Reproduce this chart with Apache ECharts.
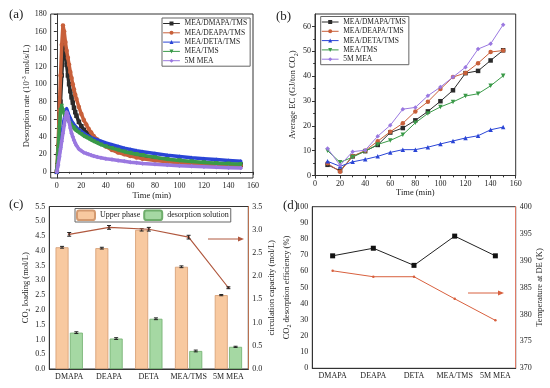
<!DOCTYPE html>
<html><head><meta charset="utf-8">
<script src="https://cdn.jsdelivr.net/npm/echarts@6/dist/echarts.min.js"></script>
<style>html,body{margin:0;padding:0;background:#fff}#c{width:550px;height:388px}</style>
</head><body><div id="c"></div>
<script>
// ---------- Panel (a): desorption rate ----------
const seriesNames = ['MEA/DMAPA/TMS','MEA/DEAPA/TMS','MEA/DETA/TMS','MEA/TMS','5M MEA'];
const timeA = [0,1,2,3,4,5,6,7,8,9,10,11,12,13,14,15,16,18,20,22,24,26,28,30,33,36,40,45,50,55,60,65,70,80,90,100,110,120,130,140,150];
const rateDMAPA = [0,20,45,80,110,135,145,135,122,110,100,92,85,79,73,68,64,57,52,48,45,42,40,38,35,33,30,27,25,23,21,19.5,18,16,14,12.5,11.2,10.2,9.4,8.7,8];
const rateDEAPA = [0,30,70,110,145,167,160,148,138,130,122,114,107,100,94,88,83,74,66,59,54,49,45,41,37,33,29,25,22,20,18,16.5,15,13,11.5,10.3,9.4,8.7,8.1,7.6,7.2];
const rateDETA  = [0,10,20,30,40,50,60,68,72,68,64,61,58,56,54,52,50.5,48,46,44,42,40.5,39,38,36.5,35,33,31,29,27,25.5,24,23,21,19,17.5,16,15,14,13,12];
const rateTMS   = [0,25,50,70,75,70,66,63,61,59,57,55,53,51,50,48,47,45,43,41,39.5,38,36.5,35,33,31,29,27,25,23,21.5,20,19,16.5,14.5,13,11.7,10.6,9.8,9.2,8.6];
const rateMEA   = [0,8,17,26,35,44,53,62,68,64,57,50,44,40,36,33,30,26,24,22,21,20,19,18,17,16,15,14,13,12,11,10.3,9.6,8.6,7.8,7,6.3,5.7,5.2,4.7,4.3];
const ticksA_x = [0,20,40,60,80,100,120,140,160];
const minorA_x = [10,30,50,70,90,110,130,150];
const ticksA_y = [0,20,40,60,80,100,120,140,160,180];
const minorA_y = [10,30,50,70,90,110,130,150,170];

// ---------- Panel (b): average EC ----------
const timeB = [10,20,30,40,50,60,70,80,90,100,110,120,130,140,150];
const ecDMAPA = [4.3,1.9,7.7,9.8,12.3,17.3,19.1,22.2,25.8,29.9,34.3,41.2,42.1,46.3,50.4];
const ecDEAPA = [4.9,1.5,7.8,10.0,13.8,17.6,21.0,25.8,29.7,34.8,39.6,41.3,45.2,49.7,50.3];
const ecDETA  = [5.7,3.7,5.5,6.5,7.7,9.3,10.4,10.4,11.4,12.7,13.9,15.1,16.0,18.4,19.5];
const ecTMS   = [10.0,5.3,7.4,9.8,12.5,14.1,16.4,21.2,25.0,27.6,29.6,32.0,32.9,36.1,40.1];
const ecMEA   = [10.9,4.1,9.6,10.2,15.8,20.2,26.7,27.4,32.1,35.6,39.6,43.6,50.9,53.0,60.7];
const ticksB_y = [0,10,20,30,40,50,60];
const minorB_y = [5,15,25,35,45,55];
const minorB_x = [10,30,50,70,90,110,130,150];

// ---------- Panels (c) and (d) ----------
const catsCD = ['DMAPA','DEAPA','DETA','MEA/TMS','5M MEA'];
const upperPhase = [4.12,4.09,4.71,3.46,2.50];
const upperErr   = [0.03,0.03,0.04,0.03,0.02];
const desorpSol  = [1.23,1.03,1.70,0.61,0.75];
const desorpErr  = [0.03,0.03,0.03,0.03,0.02];
const circCap    = [2.90,3.05,3.01,2.84,1.75];
const circErr    = [0.04,0.04,0.04,0.04,0.02];
const desEff     = [69.6,74.3,63.7,81.8,69.6];
const tempDE     = [388.1,387.0,387.0,382.9,378.9];

const FONT = 'Liberation Serif';
const TXT = '#222';
const colors = ['#2b2b2b','#c8603a','#2a45d6','#3a9a48','#9a78e0'];
const symbols = ['rect','circle','triangle','path://M0,0 L10,0 L5,9 Z','diamond'];

function zip(xs, ys){ return xs.map((x,i)=>[x, ys[i]]); }

const axLine = {show:true, lineStyle:{color:'#333', width:1}};
function baseLabel(extra){ return Object.assign({color:TXT, fontFamily:FONT, fontSize:8, margin:4}, extra||{}); }
function nameStyle(extra){ return Object.assign({color:TXT, fontFamily:FONT, fontSize:8.5,
  rich:{sup:{fontFamily:FONT,fontSize:6,color:TXT,verticalAlign:'top',lineHeight:8},
        sub:{fontFamily:FONT,fontSize:6,color:TXT,verticalAlign:'bottom',lineHeight:12}}}, extra||{}); }

function minorAxis(gi, pos, min, max, vals){
  return {gridIndex:gi, type:'value', position:pos, min:min, max:max,
    axisLine:{show:false}, axisLabel:{show:false}, splitLine:{show:false},
    axisTick:{show:true, length:1.8, customValues:vals, lineStyle:{color:'#333'}}};
}

const xAxes = [
  {gridIndex:0, type:'value', min:-5, max:160, axisLine:axLine, splitLine:{show:false},
   axisTick:{length:3, customValues:ticksA_x, lineStyle:{color:'#333'}},
   axisLabel:baseLabel({customValues:ticksA_x}),
   name:'Time (min)', nameLocation:'middle', nameGap:12, nameTextStyle:nameStyle()},
  {gridIndex:1, type:'value', min:0, max:160, interval:20, axisLine:axLine, splitLine:{show:false},
   axisTick:{length:3, lineStyle:{color:'#333'}}, axisLabel:baseLabel(),
   name:'Time (min)', nameLocation:'middle', nameGap:12, nameTextStyle:nameStyle()},
  {gridIndex:2, type:'category', data:catsCD, boundaryGap:true, axisLine:axLine,
   axisTick:{alignWithLabel:true, length:3, lineStyle:{color:'#333'}}, axisLabel:baseLabel({interval:0})},
  {gridIndex:3, type:'category', data:catsCD, boundaryGap:true, axisLine:axLine,
   axisTick:{alignWithLabel:true, length:3, lineStyle:{color:'#333'}}, axisLabel:baseLabel({interval:0})},
  minorAxis(0,'bottom',-5,160,minorA_x),
  minorAxis(1,'bottom',0,160,minorB_x)
];

const yAxes = [
  {gridIndex:0, type:'value', min:-7, max:180, axisLine:axLine, splitLine:{show:false},
   axisTick:{length:3, customValues:ticksA_y, lineStyle:{color:'#333'}},
   axisLabel:baseLabel({customValues:ticksA_y}),
   name:'Desorption rate (10{sup|-3} mol/s/L)', nameLocation:'middle', nameGap:16, nameTextStyle:nameStyle()},
  {gridIndex:1, type:'value', min:0, max:65, axisLine:axLine, splitLine:{show:false},
   axisTick:{length:3, customValues:ticksB_y, lineStyle:{color:'#333'}},
   axisLabel:baseLabel({customValues:ticksB_y}),
   name:'Average EC (GJ/ton CO{sub|2})', nameLocation:'middle', nameGap:14, nameTextStyle:nameStyle()},
  {gridIndex:2, type:'value', min:0, max:5.5, interval:0.5, axisLine:axLine, splitLine:{show:false},
   axisTick:{length:3, lineStyle:{color:'#333'}}, axisLabel:baseLabel({formatter:v=>v.toFixed(1)}),
   name:'CO{sub|2} loading (mol/L)', nameLocation:'middle', nameGap:16, nameTextStyle:nameStyle()},
  {gridIndex:2, type:'value', position:'right', min:0, max:3.5, interval:0.5,
   axisLine:{show:true, lineStyle:{color:'#b8704f', width:1}}, splitLine:{show:false},
   axisTick:{length:3, lineStyle:{color:'#b8704f'}}, axisLabel:baseLabel({formatter:v=>v.toFixed(1)}),
   name:'circulation capacity (mol/L)', nameLocation:'middle', nameGap:19, nameTextStyle:nameStyle()},
  {gridIndex:3, type:'value', min:0, max:100, interval:10, axisLine:axLine, splitLine:{show:false},
   axisTick:{length:3, lineStyle:{color:'#333'}}, axisLabel:baseLabel(),
   name:'CO{sub|2} desorption efficiency (%)', nameLocation:'middle', nameGap:15, nameTextStyle:nameStyle()},
  {gridIndex:3, type:'value', position:'right', min:370, max:400, interval:5,
   axisLine:{show:true, lineStyle:{color:'#e07a66', width:1}}, splitLine:{show:false},
   axisTick:{length:3, lineStyle:{color:'#e07a66'}}, axisLabel:baseLabel(),
   name:'Temperature at DE (K)', nameLocation:'middle', nameGap:16, nameTextStyle:nameStyle()},
  minorAxis(0,'left',-7,180,minorA_y),
  minorAxis(1,'left',0,65,minorB_y)
];

const rateData = [rateDMAPA, rateDEAPA, rateDETA, rateTMS, rateMEA];
const ecData = [ecDMAPA, ecDEAPA, ecDETA, ecTMS, ecMEA];

const series = [];
seriesNames.forEach((n,i)=>{
  series.push({type:'line', name:n, xAxisIndex:0, yAxisIndex:0, data:zip(timeA, rateData[i]),
    symbol:symbols[i], symbolSize:4.5, showAllSymbol:true, color:colors[i],
    lineStyle:{width:3.5, color:colors[i], cap:'round', join:'round'}, itemStyle:{color:colors[i]}, z:2+i});
});
seriesNames.forEach((n,i)=>{
  series.push({type:'line', name:n, xAxisIndex:1, yAxisIndex:1, data:zip(timeB, ecData[i]),
    symbol:symbols[i], symbolSize:4.5, showAllSymbol:true, color:colors[i],
    lineStyle:{width:1, color:colors[i]}, itemStyle:{color:colors[i]}, z:2+i});
});

const BAR_W = 13, BAR_GAP_PX = 1.3;
function errRender(params, api){
  const i = api.value(0), v = api.value(1), e = api.value(2), side = api.value(3);
  const top = api.coord([i, v+e]), bot = api.coord([i, v-e]);
  const x = top[0] + side*(BAR_W+BAR_GAP_PX)/2;
  const st = {stroke:'#222', lineWidth:1};
  return {type:'group', children:[
    {type:'line', shape:{x1:x,y1:top[1],x2:x,y2:bot[1]}, style:st},
    {type:'line', shape:{x1:x-2,y1:top[1],x2:x+2,y2:top[1]}, style:st},
    {type:'line', shape:{x1:x-2,y1:bot[1],x2:x+2,y2:bot[1]}, style:st}
  ]};
}

series.push({type:'bar', name:'Upper phase', xAxisIndex:2, yAxisIndex:2, data:upperPhase,
  barWidth:BAR_W, barGap:'10%', itemStyle:{color:'#f8c9a0', borderColor:'#d49a70', borderWidth:0.8}});
series.push({type:'bar', name:'desorption solution', xAxisIndex:2, yAxisIndex:2, data:desorpSol,
  barWidth:BAR_W, barGap:'10%', itemStyle:{color:'#a5d8a3', borderColor:'#6fae6c', borderWidth:0.8}});
series.push({type:'custom', xAxisIndex:2, yAxisIndex:2, renderItem:errRender, z:5,
  data:catsCD.map((c,i)=>[i, upperPhase[i], upperErr[i], -1])});
series.push({type:'custom', xAxisIndex:2, yAxisIndex:2, renderItem:errRender, z:5,
  data:catsCD.map((c,i)=>[i, desorpSol[i], desorpErr[i], 1])});
series.push({type:'line', name:'circ', xAxisIndex:2, yAxisIndex:3, data:circCap,
  symbol:'circle', symbolSize:2.5, color:'#b0583e', lineStyle:{width:1.2, color:'#b0583e'}, z:6});
series.push({type:'custom', xAxisIndex:2, yAxisIndex:3, renderItem:errRender, z:7,
  data:catsCD.map((c,i)=>[i, circCap[i], circErr[i], 0])});

series.push({type:'line', name:'eff', xAxisIndex:3, yAxisIndex:4, data:desEff,
  symbol:'rect', symbolSize:5, color:'#111', lineStyle:{width:1, color:'#222'}});
series.push({type:'line', name:'temp', xAxisIndex:3, yAxisIndex:5, data:tempDE,
  symbol:'circle', symbolSize:2.5, color:'#d8603e', lineStyle:{width:1, color:'#d8603e'}});

function lineLegend(left, top){
  return {left:left, top:top, orient:'vertical', data:seriesNames, itemWidth:16, itemHeight:5, itemGap:0.3,
    padding:[1,3,1,1], borderColor:'#666', borderWidth:1, selectedMode:false,
    lineStyle:{width:1}, textStyle:{fontFamily:FONT, fontSize:7.5, color:TXT, lineHeight:9}};
}

function arrow(x1, x2, y, color){
  return {type:'group', silent:true, children:[
    {type:'line', shape:{x1:x1, y1:y, x2:x2-4, y2:y}, style:{stroke:color, lineWidth:1}},
    {type:'polygon', shape:{points:[[x2,y],[x2-6,y-2.5],[x2-6,y+2.5]]}, style:{fill:color}}
  ]};
}

const option = {
  animation:false,
  textStyle:{fontFamily:FONT},
  grid:[
    {left:50.7, top:14, width:202.3, height:164, show:true, borderColor:'#333', borderWidth:1},
    {left:315, top:14, width:200.7, height:161.5, show:true, borderColor:'#333', borderWidth:1},
    {left:49.3, top:206.5, width:199, height:162.5, show:true, borderColor:'#333', borderWidth:1},
    {left:312.3, top:206.7, width:203.4, height:161.6, show:true, borderColor:'#333', borderWidth:1}
  ],
  legend:[
    lineLegend(162, 18),
    lineLegend(320.7, 16.5),
    {left:75, top:208.5, orient:'horizontal', data:['Upper phase','desorption solution'],
     itemWidth:18, itemHeight:9.5, itemGap:3, padding:[1,2,1,1], borderColor:'#666', borderWidth:1,
     selectedMode:false, textStyle:{fontFamily:FONT, fontSize:8, color:TXT}}
  ],
  xAxis:xAxes, yAxis:yAxes, series:series,
  graphic:[
    {type:'text', x:9, y:15, style:{text:'(a)', font:'13px "Liberation Serif"', fill:TXT, verticalAlign:'middle'}},
    {type:'text', x:276, y:16.5, style:{text:'(b)', font:'13px "Liberation Serif"', fill:TXT, verticalAlign:'middle'}},
    {type:'text', x:9, y:205, style:{text:'(c)', font:'13px "Liberation Serif"', fill:TXT, verticalAlign:'middle'}},
    {type:'text', x:283, y:206, style:{text:'(d)', font:'13px "Liberation Serif"', fill:TXT, verticalAlign:'middle'}},
    arrow(208, 244, 239, '#b0583e'),
    arrow(468, 504, 293, '#d8603e')
  ]
};
const chart = echarts.init(document.getElementById('c'), null, {renderer:'canvas'});
chart.setOption(option);
</script></body></html>
